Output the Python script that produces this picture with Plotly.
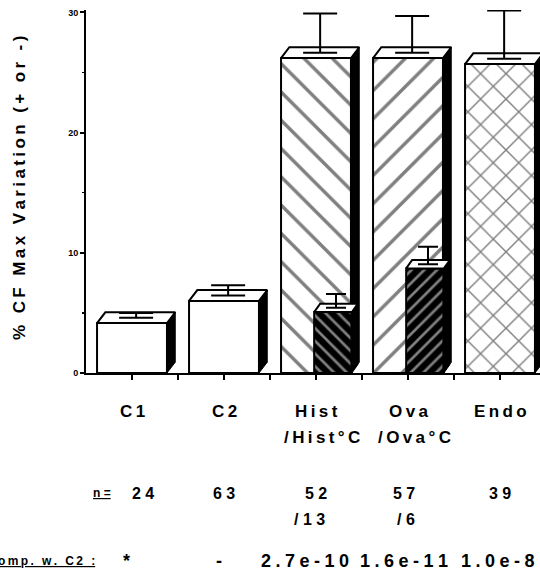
import plotly.graph_objects as go

# ---------------- data ----------------
categories = ["C1", "C2", "Hist", "Ova", "Endo"]
cat_pos = [0, 1, 2, 3, 4]
mean_values = [4.15, 6.0, 26.2, 26.2, 25.7]
sem_values = [0.85, 1.3, 3.7, 3.5, 4.45]
main_patterns = ["", "", "\\", "/", "x"]

sub_labels = ["/Hist°C", "/Ova°C"]
sub_pos = [2, 3]
sub_values = [5.07, 8.7]
sub_sem = [1.5, 1.8]
sub_patterns = ["\\", "/"]

n_main = ["24", "63", "52", "57", "39"]
n_sub = ["/13", "/6"]
p_labels = ["*", "-", "2.7e-10", "1.6e-11", "1.0e-8"]
y_ticks = [0, 10, 20, 30]
y_title = "% CF Max Variation (+ or -)"

# ---------------- layout constants ----------------
W, H = 540, 576
ML, MT, MB, MR = 86, 10, 203, 0
PH = H - MT - MB
FONT = "Liberation Sans, Arial, Helvetica, sans-serif"
TS = "\u2009"   # thin space used as letter tracking
MS = "\u2005"   # four-per-em space, wider tracking


def sp(s, gap=TS):
    return gap.join(list(s))


def ypaper(py):
    return (H - MB - py) / PH


MAIN_W, SUB_W = 0.76, 0.41
DX, DY = 0.09, 0.9
SDX, SDY = 0.065, 0.7

fig = go.Figure()

# front faces of main bars
fig.add_trace(go.Bar(
    x=cat_pos, y=mean_values, width=MAIN_W,
    marker=dict(color="white", line=dict(color="black", width=2),
                pattern=dict(shape=main_patterns, fgcolor="black", bgcolor="white",
                             size=[20, 20, 20, 20, 18], solidity=[0.1, 0.1, 0.17, 0.17, 0.15])),
    showlegend=False, hoverinfo="skip"))

# front faces of sub bars
sub_x = [p + SUB_W / 2 - 0.02 for p in sub_pos]
fig.add_trace(go.Bar(
    x=sub_x, y=sub_values, width=SUB_W,
    marker=dict(color="black", line=dict(color="black", width=2),
                pattern=dict(shape=sub_patterns, fgcolor="white", bgcolor="black",
                             size=9, solidity=0.3)),
    showlegend=False, hoverinfo="skip"))


def add_box3d(xc, w, v, dx, dy):
    L, R = xc - w / 2, xc + w / 2
    # side face
    fig.add_trace(go.Scatter(
        x=[R, R, R + dx, R + dx, R], y=[0, v, v + dy, dy, 0],
        mode="lines", fill="toself", fillcolor="black",
        line=dict(color="black", width=1), showlegend=False, hoverinfo="skip"))
    # top face
    fig.add_trace(go.Scatter(
        x=[L, L + dx, R + dx, R, L], y=[v, v + dy, v + dy, v, v],
        mode="lines", fill="toself", fillcolor="white",
        line=dict(color="black", width=2), showlegend=False, hoverinfo="skip"))


for xc, v in zip(cat_pos, mean_values):
    add_box3d(xc, MAIN_W, v, DX, DY)

fig.add_trace(go.Scatter(
    x=[p + DX / 2 for p in cat_pos],
    y=[v + DY / 2 for v in mean_values],
    mode="markers", marker=dict(size=1, color="rgba(0,0,0,0)"),
    error_y=dict(type="data", symmetric=False,
                 array=[s - DY / 2 for s in sem_values],
                 arrayminus=[0] * len(sem_values),
                 color="black", thickness=2, width=17),
    cliponaxis=False, showlegend=False, hoverinfo="skip"))

for xc, v in zip(sub_x, sub_values):
    add_box3d(xc, SUB_W, v, SDX, SDY)

fig.add_trace(go.Scatter(
    x=[x + SDX / 2 for x in sub_x],
    y=[v + SDY / 2 for v in sub_values],
    mode="markers", marker=dict(size=1, color="rgba(0,0,0,0)"),
    error_y=dict(type="data", symmetric=False,
                 array=[s - SDY / 2 for s in sub_sem],
                 arrayminus=[0] * len(sub_sem),
                 color="black", thickness=2, width=10),
    cliponaxis=False, showlegend=False, hoverinfo="skip"))

# ---------------- annotations ----------------
ann = []
bold = dict(family=FONT, color="black", weight="bold")


def add_text(x, py, text, size, xanchor="center", xref="x", underline=False):
    f = dict(bold, size=size)
    if underline:
        f["lineposition"] = "under"
    ann.append(dict(x=x, y=ypaper(py), xref=xref, yref="paper", text=text,
                    showarrow=False, xanchor=xanchor, yanchor="middle", font=f))


for p, c in zip(cat_pos, categories):
    add_text(p, 411, sp(c), 17)
for p, s in zip(sub_pos, sub_labels):
    add_text(p + 0.07, 437, sp(s), 17)

add_text(-0.33, 493, "n =", 12, underline=True)
n_dx = [0.12, 0.0, 0.0, -0.04, 0.0]
for p, d, s in zip(cat_pos, n_dx, n_main):
    add_text(p + d, 493, sp(s, " "), 16)
for p, s in zip(sub_pos, n_sub):
    add_text(p - 0.07 + (0.05 if s == "/6" else 0), 519, sp(s, " "), 16)

add_text((97 - 132) / 92, 561, sp("Comp. w. C2 :"), 12, xanchor="right", underline=True)
p_dx = [-0.06, -0.05, -0.12, -0.04, -0.02]
for p, d, s in zip(cat_pos, p_dx, p_labels):
    add_text(p + d, 561, sp(s, MS), 18)

ann.append(dict(x=(20 - ML) / (W - ML - MR), y=ypaper(188), xref="paper", yref="paper",
                text=sp(y_title), textangle=-90, showarrow=False,
                xanchor="center", yanchor="middle", font=dict(bold, size=17)))

fig.update_layout(
    width=W, height=H, margin=dict(l=ML, r=MR, t=MT, b=MB),
    paper_bgcolor="white", plot_bgcolor="white",
    barmode="overlay", bargap=0,
    annotations=ann,
    xaxis=dict(range=[-0.5, (W - 132) / 92], showgrid=False, zeroline=False,
               showline=True, linecolor="black", linewidth=2,
               ticks="outside", ticklen=5, tickwidth=1.5, tickcolor="black",
               tickvals=[i * 0.5 for i in range(9)], showticklabels=False, fixedrange=True),
    yaxis=dict(range=[0, 30.2], showgrid=False, zeroline=False,
               showline=True, linecolor="black", linewidth=2,
               ticks="outside", ticklen=4, tickwidth=2, tickcolor="black",
               tickvals=y_ticks, ticktext=[str(t) for t in y_ticks],
               tickfont=dict(family=FONT, size=9, color="black", weight="bold"),
               minor=dict(tickvals=[5, 15, 25], ticks="outside", ticklen=2, tickwidth=1.5,
                          tickcolor="black"),
               fixedrange=True),
)

fig.write_html("out.html", config={"displayModeBar": False, "staticPlot": True},
               post_script="document.body.style.margin='0px';")
